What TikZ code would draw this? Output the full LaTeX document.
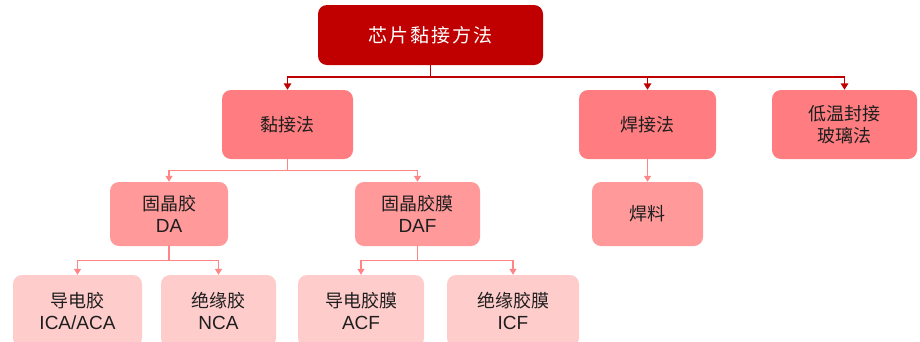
\documentclass[tikz,border=0pt]{standalone}
\usepackage{fontspec}
\setmainfont{Liberation Sans}
\newfontfamily\cjk{Noto Sans CJK SC}
\newfontfamily\cjkroot[LetterSpace=10]{Noto Sans CJK SC}
\usetikzlibrary{arrows.meta}
\definecolor{rootred}{HTML}{C00000}
\definecolor{lvtwo}{HTML}{FF7C80}
\definecolor{lvthree}{HTML}{FF999A}
\definecolor{lvfour}{HTML}{FFCCCC}
\definecolor{linkpink}{HTML}{FF8587}
\definecolor{txt}{HTML}{1E1E1E}
\newcommand{\zh}[1]{{\cjk\fontsize{18}{22}\selectfont #1}}
\tikzset{
  box/.style={rounded corners=9pt, inner sep=0pt, align=center, text=txt,
    font=\fontsize{19}{22.5}\selectfont},
  rootbox/.style={box, fill=rootred, text=white, minimum width=225pt, minimum height=60pt},
  twobox/.style={box, fill=lvtwo, minimum height=69pt},
  threebox/.style={box, fill=lvthree, minimum height=64pt},
  fourbox/.style={box, fill=lvfour, minimum height=72pt},
  toplink/.style={draw=rootred, line width=1.6pt, -{Triangle[width=7.5pt,length=6.5pt]}},
  sublink/.style={draw=linkpink, line width=1.3pt, -{Triangle[width=7pt,length=6pt]}}
}
\begin{document}
\begin{tikzpicture}[x=1pt,y=-1pt]
\clip (0,0) rectangle (920,341);
\useasboundingbox (0,0) rectangle (920,341);
\node[rootbox] (root) at (430.5,35) {\cjkroot\fontsize{19}{22}\selectfont 芯片黏接方法};
\node[twobox, minimum width=131pt] (nie) at (287.5,124.5) {\zh{黏接法}};
\node[twobox, minimum width=137pt] (han) at (647.5,124.5) {\zh{焊接法}};
\node[twobox, minimum width=145pt] (diwen) at (844.5,124.5) {\zh{低温封接}\\\zh{玻璃法}};
\node[threebox, minimum width=118pt] (da) at (169,214) {\zh{固晶胶}\\DA};
\node[threebox, minimum width=125pt] (daf) at (417.5,214) {\zh{固晶胶膜}\\DAF};
\node[threebox, minimum width=111pt] (hl) at (647.5,214) {\zh{焊料}};
\node[fourbox, minimum width=129pt] (ica) at (77.5,311) {\zh{导电胶}\\ICA/ACA};
\node[fourbox, minimum width=115pt] (nca) at (218.5,311) {\zh{绝缘胶}\\NCA};
\node[fourbox, minimum width=126pt] (acf) at (361,311) {\zh{导电胶膜}\\ACF};
\node[fourbox, minimum width=132pt] (icf) at (513,311) {\zh{绝缘胶膜}\\ICF};
% top connectors
\draw[toplink] (root.south) -- ++(0,12) -| (nie.north);
\draw[toplink] (root.south) -- ++(0,12) -| (han.north);
\draw[toplink] (root.south) -- ++(0,12) -| (diwen.north);
% second level
\draw[sublink] (nie.south) -- ++(0,11) -| (da.north);
\draw[sublink] (nie.south) -- ++(0,11) -| (daf.north);
\draw[sublink] (han.south) -- (hl.north);
% third level
\draw[sublink] (da.south) -- ++(0,14) -| (ica.north);
\draw[sublink] (da.south) -- ++(0,14) -| (nca.north);
\draw[sublink] (daf.south) -- ++(0,14) -| (acf.north);
\draw[sublink] (daf.south) -- ++(0,14) -| (icf.north);
\end{tikzpicture}
\end{document}
